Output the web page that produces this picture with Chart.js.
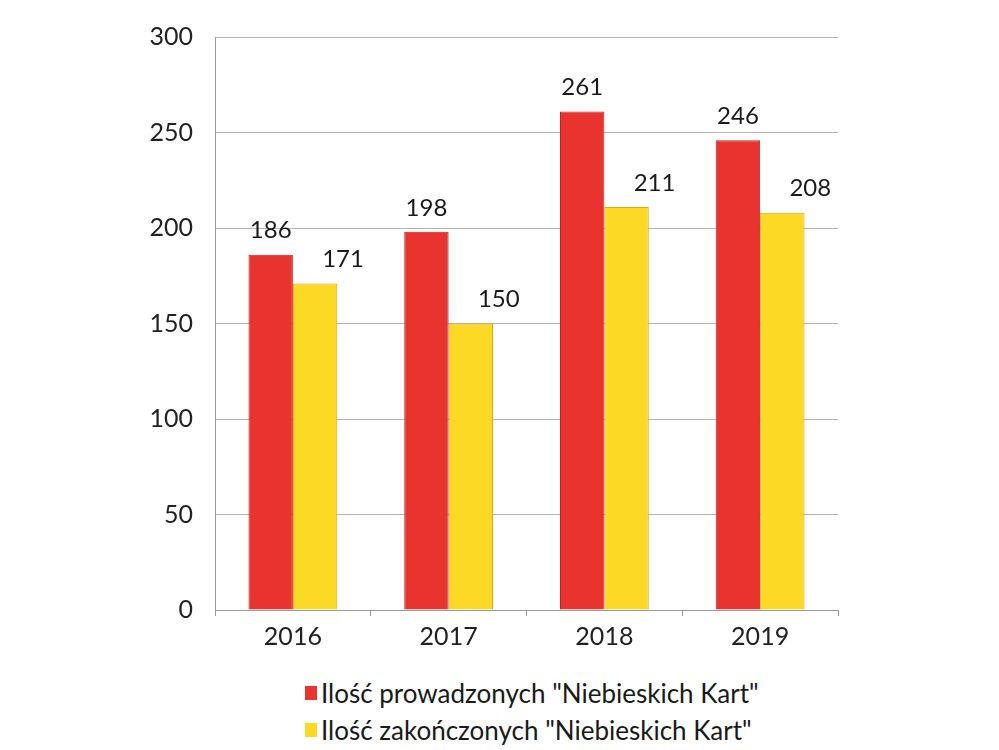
<!DOCTYPE html>
<html>
<head>
<meta charset="utf-8">
<script src="https://cdn.jsdelivr.net/npm/chart.js@4.4.1/dist/chart.umd.min.js"></script>
<style>
    body { margin: 0; background: #fff; font-family: Lato, "Open Sans", sans-serif; }
    #wrap { position: relative; width: 999px; height: 660px; }
    #legend { margin-left: 305px; margin-top: 14px; color: #1a1a1a; font-size: 26px; }
    #legend div { height: 37px; display: flex; align-items: center; }
    #legend span.box { display: inline-block; width: 12px; height: 14px; margin-right: 4px; }
</style>
</head>
<body>
<div id="wrap"><canvas id="chart" width="999" height="660"></canvas></div>
<div id="legend"></div>
<script>
// --- data ---
const years = ['2016', '2017', '2018', '2019'];
const prowadzone = [186, 198, 261, 246];
const zakonczone = [171, 150, 211, 208];
const yTicks = [0, 50, 100, 150, 200, 250, 300];

const seriesNames = ['Ilość prowadzonych "Niebieskich Kart"', 'Ilość zakończonych "Niebieskich Kart"'];
const seriesColors = ['#E8332F', '#FCD925'];
const seriesBorders = ['#C9221F', '#E8A21C'];

// etykiety nad słupkami
const valueLabels = {
    id: 'valueLabels',
    afterDatasetsDraw(chart) {
        const ctx = chart.ctx;
        ctx.save();
        ctx.font = '24px Lato, "Open Sans", sans-serif';
        ctx.fillStyle = '#1a1a1a';
        ctx.textAlign = 'center';
        ctx.textBaseline = 'bottom';
        chart.data.datasets.forEach((ds, i) => {
            chart.getDatasetMeta(i).data.forEach((bar, j) => {
                const dx = i === 1 ? 28 : 0;
                ctx.fillText(ds.data[j], bar.x + dx, bar.y - 12);
            });
        });
        ctx.restore();
    }
};

const chart = new Chart(document.getElementById('chart'), {
    type: 'bar',
    data: {
        labels: years,
        datasets: [
            { label: seriesNames[0], data: prowadzone, backgroundColor: seriesColors[0], borderColor: seriesBorders[0], borderWidth: 1 },
            { label: seriesNames[1], data: zakonczone, backgroundColor: seriesColors[1], borderColor: seriesBorders[1], borderWidth: 1 }
        ]
    },
    options: {
        responsive: false,
        animation: false,
        layout: { padding: { top: 35, right: 161, left: 0, bottom: 0 } },
        datasets: { bar: { barPercentage: 1, categoryPercentage: 0.57 } },
        plugins: { legend: { display: false }, tooltip: { enabled: false } },
        scales: {
            x: {
                afterFit(s) { s.height = 50; },
                grid: { drawOnChartArea: false, tickLength: 6, color: '#999' },
                border: { color: '#999' },
                ticks: { color: '#222', font: { size: 25, family: 'Lato' }, padding: 6 }
            },
            y: {
                min: 0,
                max: 300,
                afterFit(s) { s.width = 215; },
                afterBuildTicks(s) { s.ticks = yTicks.map(v => ({ value: v })); },
                grid: { color: '#B5B5B5', drawTicks: false },
                border: { color: '#999' },
                ticks: { color: '#222', font: { size: 25, family: 'Lato' }, padding: 22 }
            }
        }
    },
    plugins: [valueLabels]
});

// legenda pionowa
const legend = document.getElementById('legend');
chart.data.datasets.forEach(ds => {
    const row = document.createElement('div');
    row.innerHTML = '<span class="box" style="background:' + ds.backgroundColor + '"></span>' + ds.label.replace(/"/g, '&quot;');
    legend.appendChild(row);
});
</script>
</body>
</html>
